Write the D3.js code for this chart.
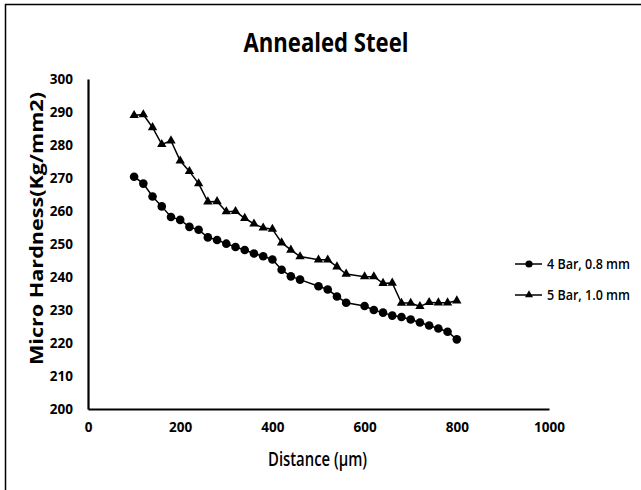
<!DOCTYPE html>
<html>
<head>
<meta charset="utf-8">
<title>Annealed Steel</title>
<style>
  body { margin: 0; background: #fff; }
  svg text { font-family: "Open Sans", "Noto Sans", sans-serif; fill: #000; }
</style>
</head>
<body>
<svg></svg>
<script src="https://d3js.org/d3.v7.min.js"></script>
<script>
// distance (µm) where hardness was measured
var distances = [100, 120, 140, 160, 180, 200, 220, 240, 260, 280, 300, 320, 340, 360, 380, 400, 420, 440, 460,
                 500, 520, 540, 560, 600, 620, 640, 660, 680, 700, 720, 740, 760, 780, 800];
// 4 Bar, 0.8 mm
var bar4 = [270.4, 268.3, 264.4, 261.4, 258.2, 257.3, 255.2, 254.3, 252.0, 251.2, 250.1, 249.1, 248.2, 247.1, 246.3, 245.3, 242.2, 240.2, 239.2,
            237.2, 236.2, 234.1, 232.2, 231.2, 230.0, 229.2, 228.3, 227.9, 227.1, 226.2, 225.3, 224.4, 223.4, 221.1];
// 5 Bar, 1.0 mm
var bar5 = [289.0, 289.2, 285.3, 280.2, 281.3, 275.2, 272.0, 268.3, 262.8, 262.9, 259.8, 259.9, 257.8, 256.1, 254.9, 254.5, 250.4, 248.2, 246.2,
            245.2, 245.2, 243.1, 240.9, 240.1, 240.1, 238.1, 238.2, 232.1, 232.1, 231.1, 232.3, 232.2, 232.2, 232.8];
var seriesNames = ["4 Bar, 0.8 mm", "5 Bar, 1.0 mm"];
var xTicks = [0, 200, 400, 600, 800, 1000];
var yTicks = [200, 210, 220, 230, 240, 250, 260, 270, 280, 290, 300];

var svg = d3.select("svg").attr("width", 641).attr("height", 490);

// outer frame (right / bottom edges fall outside the window)
svg.append("rect").attr("x", 5.5).attr("y", 4.5).attr("width", 700).attr("height", 600)
   .attr("fill", "none").attr("stroke", "#000").attr("stroke-width", 1.5);

var x = d3.scaleLinear().domain([0, 1000]).range([88, 549]);
var y = d3.scaleLinear().domain([200, 300]).range([409, 79]);

// title
svg.append("text").attr("x", 326).attr("y", 51.5).attr("text-anchor", "middle")
   .attr("font-size", 27).attr("font-weight", 700)
   .attr("textLength", 165).attr("lengthAdjust", "spacingAndGlyphs")
   .text("Annealed Steel");

// axes
var yAxis = svg.append("g").attr("transform", "translate(88,0)")
   .call(d3.axisLeft(y).tickValues(yTicks).tickFormat(d3.format("d")).tickSize(0).tickPadding(15));
var xAxis = svg.append("g").attr("transform", "translate(0,409)")
   .call(d3.axisBottom(x).tickValues(xTicks).tickFormat(d3.format("d")).tickSize(0).tickPadding(13));

[yAxis, xAxis].forEach(function(a) {
  a.select(".domain").attr("stroke", "#000").attr("stroke-width", 2.2);
  a.selectAll("text").attr("font-family", "Open Sans").attr("font-size", 13.5)
   .attr("font-weight", 700).attr("fill", "#000");
});

// axis titles
svg.append("text").attr("x", 317.5).attr("y", 466).attr("text-anchor", "middle")
   .attr("font-size", 19).attr("font-weight", 600)
   .attr("textLength", 99).attr("lengthAdjust", "spacingAndGlyphs")
   .text("Distance (µm)");

svg.append("text").attr("transform", "translate(43,228.5) rotate(-90)")
   .attr("text-anchor", "middle").attr("font-size", 17).attr("font-weight", 700)
   .attr("textLength", 273).attr("lengthAdjust", "spacingAndGlyphs")
   .text("Micro Hardness(Kg/mm2)");

// series
var line = d3.line().x(function(d) { return x(d[0]); }).y(function(d) { return y(d[1]); });
var pts4 = distances.map(function(d, i) { return [d, bar4[i]]; });
var pts5 = distances.map(function(d, i) { return [d, bar5[i]]; });

[pts4, pts5].forEach(function(p) {
  svg.append("path").datum(p).attr("d", line)
     .attr("fill", "none").attr("stroke", "#000").attr("stroke-width", 1.5);
});

svg.selectAll("circle.m4").data(pts4).enter().append("circle").attr("class", "m4")
   .attr("cx", function(d) { return x(d[0]); })
   .attr("cy", function(d) { return y(d[1]); })
   .attr("r", 4.3).attr("fill", "#000");

var tri = d3.symbol().type(d3.symbolTriangle).size(38);
svg.selectAll("path.m5").data(pts5).enter().append("path").attr("class", "m5")
   .attr("d", tri)
   .attr("transform", function(d) { return "translate(" + x(d[0]) + "," + y(d[1]) + ")"; })
   .attr("fill", "#000");

// legend
var legend = svg.selectAll("g.leg").data(seriesNames).enter().append("g").attr("class", "leg")
   .attr("transform", function(d, i) { return "translate(515," + (264 + i * 31) + ")"; });
legend.append("line").attr("x1", 0).attr("x2", 27).attr("stroke", "#000").attr("stroke-width", 1.5);
legend.filter(function(d, i) { return i == 0; }).append("circle")
   .attr("cx", 14).attr("r", 3.6).attr("fill", "#000");
legend.filter(function(d, i) { return i == 1; }).append("path")
   .attr("d", d3.symbol().type(d3.symbolTriangle).size(28))
   .attr("transform", "translate(14,0)").attr("fill", "#000");
legend.append("text").attr("x", 32).attr("y", 0).attr("dy", "0.35em")
   .attr("font-size", 13.5).attr("font-weight", 600)
   .attr("textLength", 83).attr("lengthAdjust", "spacingAndGlyphs")
   .text(function(d) { return d; });
</script>
</body>
</html>
